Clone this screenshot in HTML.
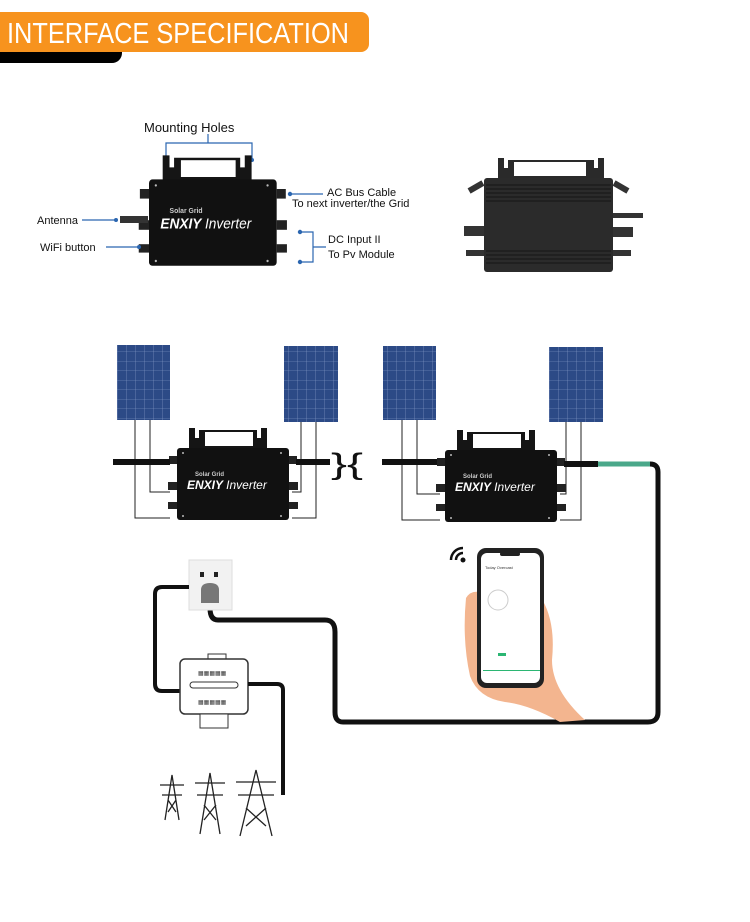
<!DOCTYPE html>
<html><head><meta charset="utf-8"><style>
html,body{margin:0;padding:0;background:#fff;}
svg{display:block;font-family:"Liberation Sans",sans-serif;}
</style></head><body>
<svg width="750" height="922" viewBox="0 0 750 922" xmlns="http://www.w3.org/2000/svg">
<defs>
<pattern id="cells" width="9" height="9.5" patternUnits="userSpaceOnUse">
<rect width="9" height="9.5" fill="#2c4a86"/><path d="M0 0H9M0 0V9.5" stroke="#8ea3cc" stroke-width="0.6"/></pattern>
<g id="inv">
<path d="M12 -8 h6 v10 h4 v-8 h58 v8 h4 v-10 h6 v22 h-78z" fill="#151515"/>
<rect x="28" y="-4" width="48" height="14" fill="#fff"/>
<rect x="0" y="12" width="112" height="72" rx="3" fill="#111"/>
<text x="18" y="40" font-size="6" fill="#ccc" font-weight="bold">Solar Grid</text>
<text x="10" y="53" font-size="12" fill="#fff" font-weight="bold" font-style="italic">ENXIY <tspan font-weight="normal">Inverter</tspan></text>
<circle cx="6" cy="17" r="1" fill="#bbb"/><circle cx="104" cy="17" r="1" fill="#bbb"/>
<circle cx="6" cy="80" r="1" fill="#bbb"/><circle cx="104" cy="80" r="1" fill="#bbb"/>
<rect x="-8" y="20" width="8" height="8" fill="#222"/><rect x="112" y="20" width="8" height="8" fill="#222"/>
<rect x="-9" y="46" width="9" height="8" fill="#222"/><rect x="112" y="46" width="9" height="8" fill="#222"/>
<rect x="-9" y="66" width="9" height="7" fill="#222"/><rect x="112" y="66" width="9" height="7" fill="#222"/>
</g>
</defs>

<path d="M0 63 H112 a10 10 0 0 0 10 -10 V50 H0z" fill="#000"/>
<path d="M0 12 H361 a8 8 0 0 1 8 8 V44 a8 8 0 0 1 -8 8 H0z" fill="#f7931e"/>
<text x="7" y="43" font-size="29" fill="#fff" textLength="342" lengthAdjust="spacingAndGlyphs">INTERFACE SPECIFICATION</text>

<text x="144" y="132" font-size="13" fill="#111">Mounting Holes</text>
<path d="M208 134 V143 M166 160 V143 H252 V160" stroke="#2b66b0" stroke-width="1.2" fill="none"/>
<circle cx="166" cy="160" r="2" fill="#2b66b0"/><circle cx="252" cy="160" r="2" fill="#2b66b0"/>
<g transform="translate(149,165) scale(1.14,1.2)"><use href="#inv"/></g>
<text x="37" y="224" font-size="11" fill="#111">Antenna</text>
<path d="M82 220 H116" stroke="#2b66b0" stroke-width="1.2"/><circle cx="116" cy="220" r="2" fill="#2b66b0"/>
<rect x="120" y="216" width="28" height="7" fill="#333"/>
<text x="40" y="251" font-size="11" fill="#111">WiFi button</text>
<path d="M106 247 H138" stroke="#2b66b0" stroke-width="1.2"/><circle cx="139" cy="247" r="2" fill="#2b66b0"/>
<path d="M291 194 H323" stroke="#2b66b0" stroke-width="1.2"/><circle cx="290" cy="194" r="2.2" fill="#2b66b0"/>
<text x="327" y="196" font-size="11" fill="#111">AC Bus Cable</text>
<text x="292" y="207" font-size="11" fill="#111">To next inverter/the Grid</text>
<path d="M300 232 H313 V262 H300 M313 247 H326" stroke="#2b66b0" stroke-width="1.2" fill="none"/>
<circle cx="300" cy="232" r="2.2" fill="#2b66b0"/><circle cx="300" cy="262" r="2.2" fill="#2b66b0"/>
<text x="328" y="243" font-size="11" fill="#111">DC Input II</text>
<text x="328" y="258" font-size="11" fill="#111">To Pv Module</text>

<path d="M498 158 h6 v10 h4 v-8 h86 v8 h4 v-10 h6 v22 h-106z" fill="#2a2a2a"/>
<rect x="514" y="162" width="72" height="14" fill="#fff"/>
<rect x="484" y="178" width="129" height="94" rx="3" fill="#2b2b2b"/>
<g stroke="#1a1a1a" stroke-width="1.2">
<path d="M486 185H611M486 189H611M486 193H611M486 197H611M486 201H611M486 251H611M486 255H611M486 259H611M486 263H611"/></g>
<rect x="468" y="184" width="16" height="6" fill="#333" transform="rotate(-30 476 187)"/>
<rect x="613" y="184" width="16" height="6" fill="#333" transform="rotate(30 621 187)"/>
<rect x="613" y="213" width="30" height="5" fill="#333"/>
<rect x="464" y="226" width="20" height="10" fill="#333"/><rect x="613" y="227" width="20" height="10" fill="#333"/>
<rect x="466" y="250" width="18" height="6" fill="#333"/><rect x="613" y="250" width="18" height="6" fill="#333"/>

<rect x="117" y="345" width="53" height="75" fill="url(#cells)"/>
<rect x="284" y="346" width="54" height="76" fill="url(#cells)"/>
<rect x="383" y="346" width="53" height="74" fill="url(#cells)"/>
<rect x="549" y="347" width="54" height="75" fill="url(#cells)"/>
<g stroke="#222" stroke-width="1" fill="none">
<path d="M135 420 V518 H170 M150 420 V492 H170"/>
<path d="M301 422 V492 H292 M316 422 V518 H292"/>
<path d="M402 420 V520 H440 M417 420 V494 H440"/>
<path d="M566 422 V494 H560 M581 422 V520 H560"/>
</g>
<g transform="translate(177,436)"><use href="#inv"/></g>
<g transform="translate(445,438)"><use href="#inv"/></g>
<g stroke="#111" stroke-width="6" fill="none">
<path d="M113 462 H170 M296 462 H330 M382 462 H437 M564 464 H598"/>
</g>
<path d="M598 464 H650" stroke="#4aa88a" stroke-width="5"/>
<text x="331" y="474" font-size="30" fill="#111" textLength="32" lengthAdjust="spacingAndGlyphs">}{</text>
<path d="M650 464 Q658 464 658 472 V712 Q658 722 648 722 H343 Q335 722 335 712 V632 Q335 620 325 620 H218 Q210 620 210 608" stroke="#111" stroke-width="5" fill="none"/>

<rect x="189" y="560" width="43" height="50" fill="#f2f2f2" stroke="#ddd"/>
<rect x="200" y="572" width="4" height="5" fill="#222"/><rect x="214" y="572" width="4" height="5" fill="#222"/>
<path d="M201 590 Q201 583 210 583 Q219 583 219 590 V603 H201z" fill="#777"/>
<path d="M189 587 H162 Q155 587 155 594 V684 Q155 691 162 691 H180" stroke="#111" stroke-width="4" fill="none"/>
<rect x="208" y="654" width="18" height="6" fill="#fff" stroke="#333"/>
<rect x="180" y="659" width="68" height="55" rx="5" fill="#fff" stroke="#333" stroke-width="1.5"/>
<text x="198" y="675" font-size="6" fill="#333">▦▦▦▦▦</text>
<rect x="190" y="682" width="48" height="6" rx="3" fill="#fff" stroke="#333"/>
<text x="198" y="704" font-size="6" fill="#333">▦▦▦▦▦</text>
<rect x="200" y="714" width="28" height="14" fill="#fff" stroke="#333"/>
<path d="M248 684 H277 Q283 684 283 690 V795" stroke="#111" stroke-width="4" fill="none"/>
<g stroke="#222" stroke-width="1.3" fill="none">
<path d="M165 820 L172 775 L179 820 M160 785 H184 M162 795 H182 M168 800 L176 812 M176 800 L168 812"/>
<path d="M200 834 L210 773 L220 834 M195 783 H225 M197 795 H223 M204 805 L216 820 M216 805 L204 820"/>
<path d="M240 836 L256 770 L272 836 M236 782 H276 M238 795 H274 M246 808 L266 826 M266 808 L246 826"/>
</g>
<g fill="none" stroke="#111" stroke-width="2.5">
<path d="M451 560 A12 12 0 0 1 463 548"/><path d="M456 560 A7 7 0 0 1 463 553"/></g>
<circle cx="463" cy="560" r="2.5" fill="#111"/>
<path d="M466 598 Q472 588 485 594 L540 596 Q556 620 552 660 Q552 690 585 720 L560 722 Q530 705 505 702 Q478 698 470 676 Q462 640 466 598z" fill="#f3b58f"/>
<rect x="477" y="548" width="67" height="140" rx="9" fill="#222"/>
<rect x="481" y="553" width="59" height="130" rx="6" fill="#fff"/>
<rect x="500" y="552" width="20" height="4" rx="2" fill="#222"/>
<text x="485" y="569" font-size="4" fill="#333">Today Overcast</text>
<circle cx="498" cy="600" r="10" fill="none" stroke="#ccc"/>
<rect x="498" y="653" width="8" height="3" fill="#2bb673"/>
<rect x="483" y="670" width="57" height="1" fill="#2bb673"/>
</svg>
</body></html>
